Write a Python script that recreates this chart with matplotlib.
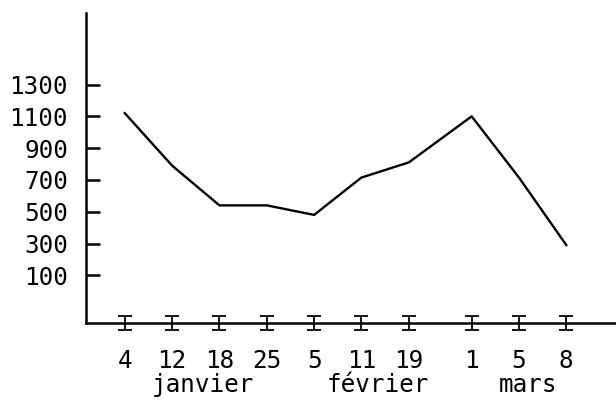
import numpy as np
import matplotlib.pyplot as plt

# jours de mesure et valeurs relevees
jours = ["4", "12", "18", "25", "5", "11", "19", "1", "5", "8"]
valeurs = [1120, 790, 540, 540, 480, 715, 810, 1100, 715, 290]
mois = ["janvier", "février", "mars"]
mois_centre = [1.65, 5.35, 8.52]
graduations = [100, 300, 500, 700, 900, 1100, 1300]

# positions regulieres, avec un ecart plus grand avant mars
x = np.arange(len(jours), dtype=float)
x[7:] += 0.33

plt.rcParams['font.family'] = ['DejaVu Sans Mono']

fig = plt.figure(figsize=(6.16, 4.01), dpi=100)
ax = fig.add_axes([0.1396, 0.1945, 0.8604, 0.773])

ax.plot(x, valeurs, color="black", lw=1.7)

# petits "I" sur l'axe des x
ax.errorbar(x, np.full(len(x), -200), yerr=42, fmt="none", ecolor="black",
            elinewidth=1.3, capsize=5, capthick=1.3, clip_on=False)

ax.set_xlim(-0.82, 10.38)
ax.set_ylim(-200, 1750)

ax.spines["top"].set_visible(False)
ax.spines["right"].set_visible(False)
ax.spines["left"].set_linewidth(1.8)
ax.spines["bottom"].set_linewidth(1.8)

ax.set_yticks(graduations)
ax.set_yticklabels([str(g) for g in graduations], fontsize=17.5)
ax.tick_params(axis="y", direction="in", length=10, width=1.8, pad=13)

ax.set_xticks(x)
ax.set_xticklabels(jours, fontsize=17.5)
ax.tick_params(axis="x", length=0, pad=19)

for m, c in zip(mois, mois_centre):
    ax.text(c, -0.222, m, transform=ax.get_xaxis_transform(), ha="center",
            va="baseline", fontsize=17.5)

plt.savefig("out.png", dpi=100)
